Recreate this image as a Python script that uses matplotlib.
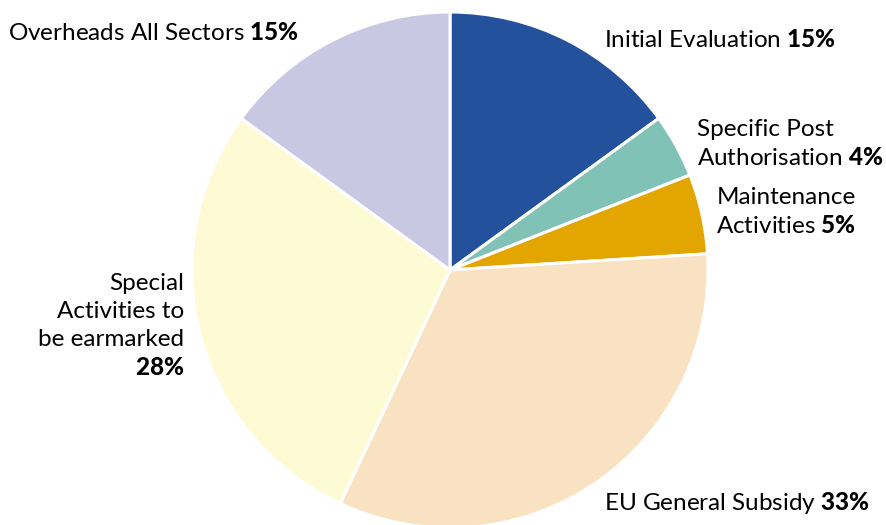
import matplotlib
matplotlib.use("Agg")
import matplotlib.pyplot as plt

labels = ["Initial Evaluation", "Specific Post\nAuthorisation", "Maintenance\nActivities",
          "EU General Subsidy", "Special\nActivities to\nbe earmarked", "Overheads All Sectors"]
values = [15, 4, 5, 33, 28, 15]
colors = ["#23519b", "#80c3b6", "#e3a500", "#f8e2c2", "#fefad4", "#c8c8e3"]

plt.rcParams['font.family'] = ['Lato', 'DejaVu Sans']
plt.rcParams['mathtext.fontset'] = 'custom'
plt.rcParams['mathtext.rm'] = 'Lato'
plt.rcParams['mathtext.bf'] = 'Lato:black'

W, H = 886, 525
fig = plt.figure(figsize=(W/100, H/100), dpi=100)
ax = fig.add_axes([0, 0, 1, 1])

ax.pie(values, colors=colors, startangle=90, counterclock=False,
       center=(450, H - 270), radius=258, frame=True,
       wedgeprops=dict(edgecolor='white', linewidth=2.2))
ax.set_xlim(0, W)
ax.set_ylim(0, H)
ax.set_aspect('equal')
ax.axis('off')

def pct(v):
    return r"$\mathbf{" + str(v) + r"\%}$"

fs = 17.5
ls = 1.4
# Overheads
ax.text(8, H - 33, labels[5] + " " + pct(values[5]), ha='left', va='center', fontsize=fs)
# Initial Evaluation
ax.text(604, H - 40, labels[0] + " " + pct(values[0]), ha='left', va='center', fontsize=fs)
# Specific Post Authorisation
ax.text(697, H - 144, labels[1] + " " + pct(values[1]), ha='left', va='center',
        fontsize=fs, multialignment='left', linespacing=ls)
# Maintenance
ax.text(786, H - 212, labels[2] + " " + pct(values[2]), ha='center', va='center',
        fontsize=fs, multialignment='center', linespacing=ls)
# EU General Subsidy
ax.text(604, H - 503, labels[3] + " " + pct(values[3]), ha='left', va='center', fontsize=fs)
# Special Activities
ax.text(184, H - 326, labels[4] + "\n" + pct(values[4]), ha='right', va='center',
        fontsize=fs, multialignment='right', linespacing=ls)

fig.savefig("out.png", dpi=100, facecolor='white')
